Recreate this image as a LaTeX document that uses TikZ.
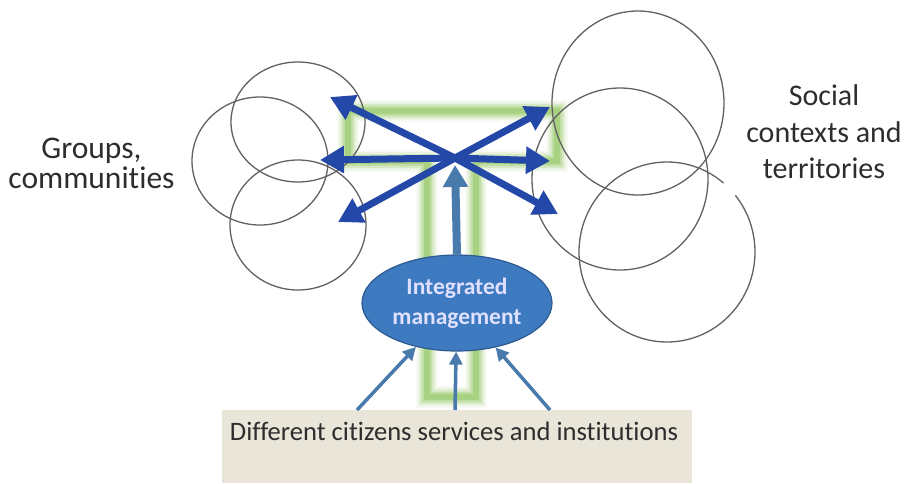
\documentclass[tikz,border=0pt]{standalone}
\usepackage{fontspec}
\setmainfont{Carlito}[Ligatures=NoCommon]
\usetikzlibrary{arrows.meta}
\usetikzlibrary{shapes.geometric}
\definecolor{crossblue}{RGB}{36,72,168}
\definecolor{steelblue}{RGB}{72,122,172}
\definecolor{mgmtblue}{RGB}{62,122,192}
\definecolor{mgmtedge}{RGB}{45,90,145}
\definecolor{tgreen}{RGB}{140,194,88}
\definecolor{boxbeige}{RGB}{233,229,216}
\definecolor{inkgray}{RGB}{45,45,45}
\tikzset{
  ring/.style={draw=black!62, line width=1.3pt},
  cross/.style={crossblue, line width=7pt, -{Triangle[width=26pt,length=24pt]}},
  lift/.style={steelblue, line width=8pt, -{Triangle[width=24pt,length=22pt]}},
  feed/.style={steelblue, line width=3.5pt, -{Triangle[width=13pt,length=13pt]}},
  sidetext/.style={text=inkgray, align=center, inner sep=0pt},
}

\begin{document}
\begin{tikzpicture}[x=1pt,y=-1pt]
\useasboundingbox (0,0) rectangle (911,483);
\node[fill=boxbeige, minimum width=470pt, minimum height=73pt, inner sep=0pt] (services) at (457,446.5) {};
\node[sidetext, font=\fontsize{26.6}{30}\selectfont] (servtext) at (454,431.5) {Different citizens services and institutions};
\foreach \w/\o in {22/0.08, 18/0.12, 14/0.2, 10/0.3, 6/0.45}
 \draw[tgreen, line width=\w pt, opacity=\o, line join=miter] (348,111) -- (557,111) -- (557,161) -- (476,161) -- (476,397) -- (427,397) -- (427,161) -- (348,161) -- cycle;
\foreach \cx/\cy/\rx/\ry in {298/122/67/60, 260/161/68/64, 298/225/68/65, 638/103/86/92, 620/179/88/91}
 \draw[ring] (\cx,\cy) ellipse [x radius=\rx pt, y radius=\ry pt];
\draw[ring] (667,252) ++(50:88pt and 90pt) arc [start angle=50, end angle=399, x radius=88pt, y radius=90pt];
\node[sidetext, font=\fontsize{31.5}{30.5}\selectfont] (groups) at (91.5,163.5) {Groups,\\communities};
\node[sidetext, font=\fontsize{30}{36.5}\selectfont] (social) at (824,132) {Social\\contexts and\\territories};
\node[ellipse, fill=mgmtblue, draw=mgmtedge, line width=1.2pt, minimum width=190pt, minimum height=96pt, inner sep=0pt,
 text=white!88!blue, font=\bfseries\fontsize{23.5}{30}\selectfont, align=center] (mgmt) at (457,303) {Integrated\\management};
\coordinate (hub) at (455,158);
\coordinate (vtip) at (455,165);
\draw[lift] (mgmt.north) -- (vtip);
\foreach \n/\x/\y in {ul/330/97, l/320/160, dl/338/222, ur/550/107, r/550/161, dr/558/214} {
 \coordinate (\n) at (\x,\y);
 \draw[cross] (hub) -- (\n);
}
\foreach \n/\x in {s1/357, s2/455, s3/550} {
 \coordinate (\n) at (\x,410);
 \draw[feed] (\n) -- (mgmt);
}
\end{tikzpicture}
\end{document}
